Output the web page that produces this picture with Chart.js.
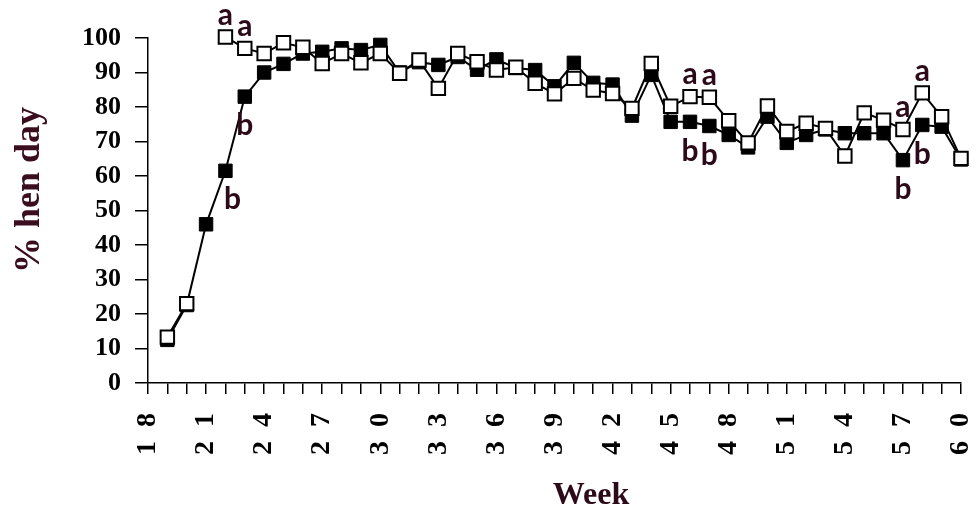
<!DOCTYPE html>
<html>
<head>
<meta charset="utf-8">
<script src="https://cdn.jsdelivr.net/npm/chart.js@4/dist/chart.umd.min.js"></script>
<style>
html,body{margin:0;padding:0;background:#fff;}
#wrap{width:979px;height:510px;}
</style>
</head>
<body>
<div id="wrap"><canvas id="c" width="979" height="510"></canvas></div>
<script>
// Weeks
const weeks = [19,20,21,22,23,24,25,26,27,28,29,30,31,32,33,34,35,36,37,38,39,40,41,42,43,44,45,46,47,48,49,50,51,52,53,54,55,56,57,58,59,60];
// Filled squares series
const filledValues = [12.5,22.6,46,61.5,83,90,92.5,95.5,96,97,96.5,98,90,93,92.2,94.5,90.8,93.8,91.3,90.7,86,92.8,87,86.5,77.5,89.3,75.7,75.7,74.5,71.9,68.3,77.2,69.6,71.9,73.5,72.4,72.4,72.4,64.6,74.8,74.3,64.8];
// Open squares series
const openValues = [13.3,23,null,100.3,97,95.5,98.6,97.3,92.6,95.5,92.8,95.5,89.8,93.6,85.4,95.5,93.1,90.7,91.5,86.9,83.8,88.3,84.9,83.9,79.6,92.6,80.2,83,82.8,76,69.6,80.3,72.9,75.3,73.8,65.8,78.3,76.2,73.5,84.1,77.2,65.1];
// Tick labels
const xTickWeeks = [18,21,24,27,30,33,36,39,42,45,48,51,54,57,60];
const yTicks = [0,10,20,30,40,50,60,70,80,90,100];
// Axis titles
const xTitle = 'Week';
const yTitle = '% hen day';
// Significance letters
const openLetterWeeks = [22,23,46,47,57,58];
const openLetters = ['a','a','a','a','a','a'];
const filledLetterWeeks = [22,23,46,47,57,58];
const filledLetters = ['b','b','b','b','b','b'];

const toXY = (vals) => weeks.map((w,i) => ({x:w, y:vals[i]}));
const maroon = '#2c0a1a';

const textPlugin = {
  id: 'texts',
  afterDraw(chart) {
    const ctx = chart.ctx, xs = chart.scales.x, ys = chart.scales.y;
    ctx.save();
    // x tick labels, rotated (read bottom to top)
    ctx.fillStyle = '#000';
    ctx.font = 'bold 28px "Liberation Serif"';
    ctx.textAlign = 'right';
    ctx.textBaseline = 'middle';
    xTickWeeks.forEach(w => {
      const px = xs.getPixelForValue(w);
      ctx.save();
      ctx.translate(px, 413);
      ctx.rotate(-Math.PI/2);
      ctx.fillText(String(w).split('').join('\u2002'), 0, 0);
      ctx.restore();
    });
    // significance letters
    ctx.fillStyle = maroon;
    ctx.font = 'bold 30px Lato';
    ctx.textAlign = 'center';
    openLetterWeeks.forEach((w,i) => {
      const v = openValues[weeks.indexOf(w)];
      ctx.fillText(openLetters[i], xs.getPixelForValue(w), ys.getPixelForValue(v) - 22);
    });
    filledLetterWeeks.forEach((w,i) => {
      const v = filledValues[weeks.indexOf(w)];
      ctx.fillText(filledLetters[i], xs.getPixelForValue(w) + (w===22?7:0), ys.getPixelForValue(v) + 29);
    });
    // axis titles
    ctx.font = 'bold 32px "Liberation Serif"';
    ctx.fillText(xTitle, 591, 496);
    ctx.translate(30, 190);
    ctx.rotate(-Math.PI/2);
    ctx.fillStyle = '#3a0d1f';
    ctx.font = 'bold 36px "Liberation Serif"';
    ctx.fillText(yTitle, 0, 0);
    ctx.restore();
  }
};

new Chart(document.getElementById('c'), {
  type: 'line',
  data: {
    datasets: [
      {
        label: 'open',
        data: toXY(openValues),
        borderColor: '#000',
        borderWidth: 2,
        pointStyle: 'rect',
        pointRadius: 9.5,
        pointBackgroundColor: '#fff',
        pointBorderColor: '#000',
        pointBorderWidth: 2,
        spanGaps: false,
        tension: 0,
        clip: false
      },
      {
        label: 'filled',
        data: toXY(filledValues),
        borderColor: '#000',
        borderWidth: 2,
        pointStyle: 'rect',
        pointRadius: 9.5,
        pointBackgroundColor: '#000',
        pointBorderColor: '#000',
        pointBorderWidth: 1,
        tension: 0,
        clip: false
      }
    ]
  },
  options: {
    responsive: false,
    animation: false,
    events: [],
    layout: { padding: { top: 38, right: 18, left: 0, bottom: 0 } },
    plugins: { legend: { display: false }, tooltip: { enabled: false } },
    scales: {
      x: {
        type: 'linear',
        min: 18, max: 60,
        afterFit(s) { s.height = 127; s.paddingLeft = 0; s.paddingRight = 0; },
        afterBuildTicks(s) { s.ticks = []; for (let w = 18; w <= 60; w++) s.ticks.push({value: w}); },
        grid: { drawOnChartArea: false, drawTicks: true, tickLength: 11, color: '#000', lineWidth: 1.5 },
        border: { display: true, color: '#000', width: 1.5 },
        ticks: { display: false, autoSkip: false }
      },
      y: {
        min: 0, max: 100,
        afterFit(s) { s.width = 148; s.paddingTop = 0; s.paddingBottom = 0; },
        afterBuildTicks(s) { s.ticks = yTicks.map(v => ({value: v})); },
        grid: { drawOnChartArea: false, drawTicks: true, tickLength: 13, color: '#000', lineWidth: 1.5 },
        border: { display: true, color: '#000', width: 1.5 },
        ticks: {
          padding: 14,
          color: '#000',
          font: { family: 'Liberation Serif', weight: 'bold', size: 26 }
        }
      }
    }
  },
  plugins: [textPlugin]
});
</script>
</body>
</html>
